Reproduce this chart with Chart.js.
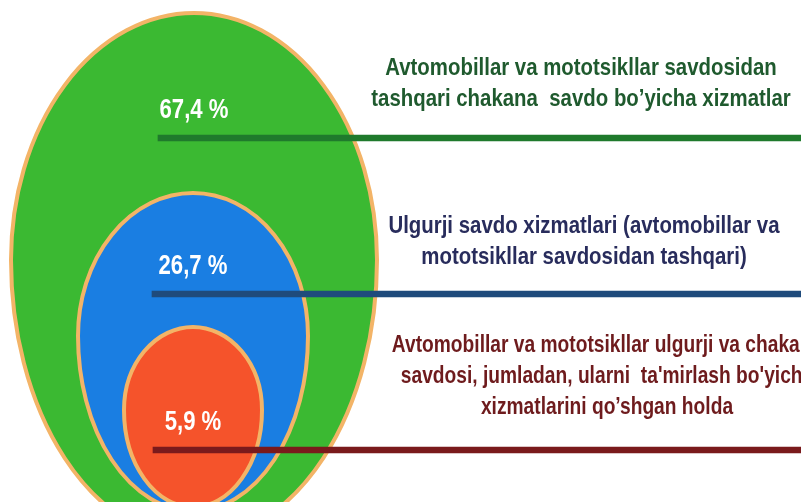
<!DOCTYPE html>
<html>
<head>
<meta charset="utf-8">
<script src="https://cdn.jsdelivr.net/npm/chart.js@4"></script>
<style>
  html, body { margin: 0; padding: 0; background: #fff; }
  #chart { display: block; }
</style>
</head>
<body>
<canvas id="chart" width="801" height="502"></canvas>
<script>
// Ma'lumotlar
const categories = [
  ["Avtomobillar va mototsikllar savdosidan", "tashqari chakana  savdo bo\u2019yicha xizmatlar"],
  ["Ulgurji savdo xizmatlari (avtomobillar va", "mototsikllar savdosidan tashqari)"],
  ["Avtomobillar va mototsikllar ulgurji va chakana", "savdosi, jumladan, ularni  ta'mirlash bo'yicha", "xizmatlarini qo\u2019shgan holda"]
];
const shares = [67.4, 26.7, 5.9];

// ranglar
const eggColors = ["#3bb932", "#1a7ee2", "#f5532b"];
const lineColors = ["#1f7a2c", "#1f4b7c", "#7a1a1c"];
const textColors = ["#1f5a2e", "#282c5c", "#6e1b1d"];
const outlineColor = "#f3b467";

// joylashuv (piksel)
const eggs = [
  { cx: 194, cy: 260, rx: 183, ryTop: 247, ryBot: 280 },
  { cx: 193, cy: 336, rx: 115, ryTop: 143, ryBot: 175 },
  { cx: 193, cy: 410, rx: 69, ryTop: 83, ryBot: 97 }
];
const leaderStart = [158, 152, 153];
const textCenter = [581, 584, 607];
const textFirstLine = [-63, -61, -98];
const textNarrow = [0.85, 0.85, 0.8];
const xMax = 801;

// Arial Narrow yo'q, shuning uchun Liberation Sans ni torayttiramiz
const fontFamily = "'Liberation Sans', Arial, sans-serif";

function formatShare(v) {
  return v.toFixed(1).replace(".", ",") + " %";
}

function narrowText(ctx, text, x, y, sx) {
  ctx.save();
  ctx.translate(x, y);
  ctx.scale(sx, 1);
  ctx.fillText(text, 0, 0);
  ctx.restore();
}

const eggPlugin = {
  id: "eggs",
  beforeDatasetsDraw(chart) {
    const ctx = chart.ctx;
    const x = chart.scales.x;
    ctx.save();
    eggs.forEach((e, i) => {
      const cx = x.getPixelForValue(e.cx);
      ctx.beginPath();
      ctx.ellipse(cx, e.cy, e.rx, e.ryBot, 0, 0, Math.PI);
      ctx.ellipse(cx, e.cy, e.rx, e.ryTop, 0, Math.PI, 2 * Math.PI);
      ctx.closePath();
      ctx.fillStyle = eggColors[i];
      ctx.fill();
      ctx.lineWidth = 4;
      ctx.strokeStyle = outlineColor;
      ctx.stroke();
    });
    ctx.restore();
  },
  afterDatasetsDraw(chart) {
    const ctx = chart.ctx;
    const x = chart.scales.x;
    const y = chart.scales.y;
    ctx.save();
    ctx.textAlign = "center";
    ctx.textBaseline = "alphabetic";
    shares.forEach((v, i) => {
      const ly = y.getPixelForValue(i);
      ctx.fillStyle = "#ffffff";
      ctx.font = "bold 27px " + fontFamily;
      narrowText(ctx, formatShare(v), x.getPixelForValue(eggs[i].cx), ly - 20, 0.82);

      ctx.fillStyle = textColors[i];
      ctx.font = "bold 24px " + fontFamily;
      categories[i].forEach((line, k) => {
        narrowText(ctx, line, textCenter[i], ly + textFirstLine[i] + k * 31, textNarrow[i]);
      });
    });
    ctx.restore();
  }
};

new Chart(document.getElementById("chart"), {
  type: "bar",
  data: {
    labels: categories.map(c => c.join(" ")),
    datasets: [{
      data: shares.map((v, i) => [leaderStart[i], xMax]),
      backgroundColor: lineColors,
      borderWidth: 0,
      barThickness: 6,
      clip: false
    }]
  },
  options: {
    indexAxis: "y",
    responsive: false,
    animation: false,
    layout: { padding: { top: 138, bottom: 52, left: 0, right: 0 } },
    scales: {
      x: { type: "linear", min: 0, max: xMax, display: false },
      y: { type: "category", offset: false, display: false }
    },
    plugins: {
      legend: { display: false },
      tooltip: { enabled: false }
    }
  },
  plugins: [eggPlugin]
});
</script>
</body>
</html>
